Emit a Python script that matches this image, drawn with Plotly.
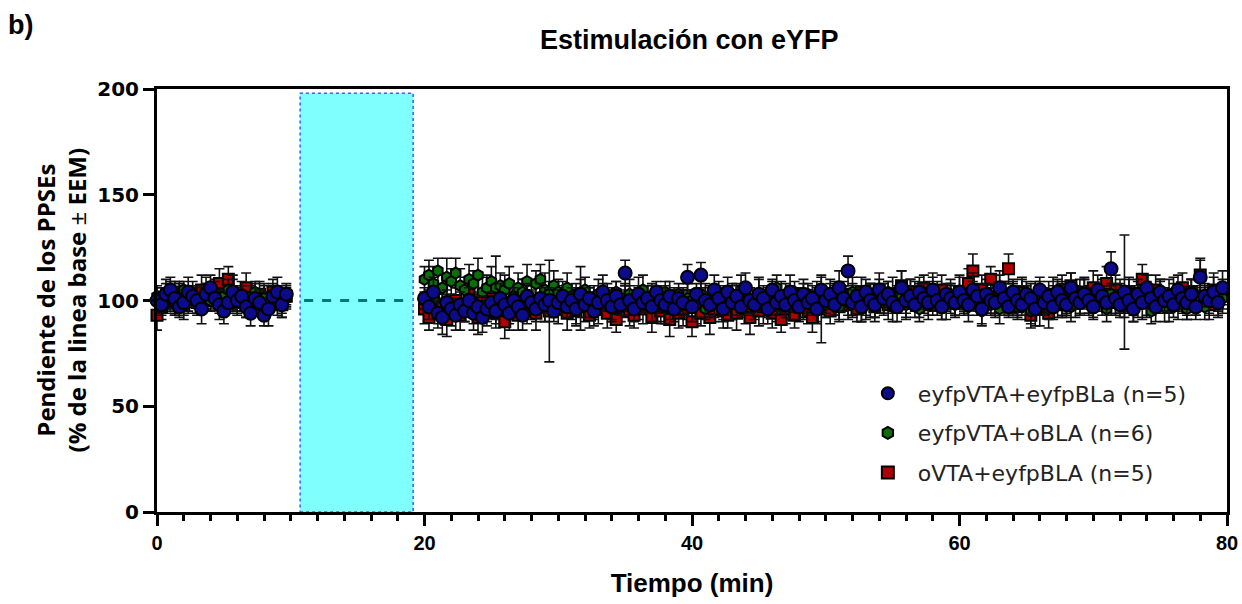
import plotly.graph_objects as go

# Sampling: one point every 20 s, baseline 0-10 min and post-stimulation 20-80 min
t_base = [i / 3 for i in range(30)]
t_post = [20 + i / 3 for i in range(180)]
tiempo = t_base + t_post

# eyfpVTA+eyfpBLa (n=5)
eyfp_eyfp = [
    100, 98, 103, 105, 101, 97, 99, 104, 102, 100, 96, 103, 106, 101, 98, 95, 99, 104, 100, 102, 97, 94, 101, 99, 93, 96, 102, 104, 98, 103,
    101, 97, 104, 94, 92, 99, 96, 93, 98, 95, 100, 94, 97, 92, 96, 99, 95, 101, 98, 94, 100, 97, 93, 102, 99, 96, 101, 98, 100, 95,
    99, 102, 97, 100, 96, 103, 98, 101, 95, 99, 104, 100, 97, 102, 98, 113, 100, 96, 103, 99, 101, 97, 104, 100, 98, 102, 96, 101, 99, 111,
    97, 103, 112, 100, 98, 105, 101, 96, 104, 99, 102, 97, 106, 100, 98, 103, 101, 96, 105, 99, 102, 98, 104, 100, 97, 103, 99, 101, 96, 105,
    100, 103, 98, 106, 101, 114, 99, 102, 97, 104, 100, 98, 105, 101, 103, 99, 97, 106, 100, 102, 98, 104, 101, 99, 105, 100, 97, 103, 101, 99,
    104, 100, 98, 105, 102, 96, 103, 100, 99, 106, 101, 97, 104, 100, 98, 103, 101, 96, 105, 99, 102, 97, 104, 100, 98, 106, 101, 99, 103, 100,
    97, 105, 102, 99, 115, 101, 98, 104, 100, 96, 103, 99, 106, 101, 97, 104, 100, 102, 98, 105, 101, 99, 103, 97, 111, 102, 100, 104, 99, 106,
]
eyfp_eyfp_eem = [
    6, 5, 7, 6, 8, 5, 6, 7, 5, 6, 7, 8, 6, 5, 7, 6, 5, 8, 6, 7, 5, 6, 7, 6, 5, 8, 6, 7, 6, 5,
    5, 6, 7, 5, 8, 6, 5, 7, 6, 5, 6, 8, 5, 7, 6, 5, 6, 7, 5, 8, 6, 5, 7, 6, 5, 6, 7, 8, 6, 5,
    6, 7, 5, 6, 8, 7, 6, 5, 7, 6, 8, 5, 6, 7, 5, 6, 7, 6, 8, 5, 6, 7, 5, 6, 9, 7, 6, 5, 7, 6,
    7, 5, 6, 8, 6, 7, 5, 6, 7, 8, 6, 5, 7, 6, 5, 8, 6, 7, 5, 6, 7, 6, 8, 5, 6, 7, 5, 6, 7, 6,
    6, 7, 5, 8, 6, 7, 6, 5, 7, 6, 8, 6, 5, 7, 6, 5, 7, 8, 6, 5, 6, 7, 5, 6, 8, 7, 6, 5, 7, 6,
    7, 6, 5, 8, 6, 7, 5, 6, 7, 6, 8, 5, 6, 7, 5, 6, 7, 8, 6, 5, 7, 6, 5, 8, 6, 7, 5, 6, 7, 6,
    6, 7, 5, 6, 8, 7, 6, 27, 5, 6, 7, 8, 6, 5, 7, 6, 5, 8, 6, 7, 5, 6, 7, 6, 8, 5, 6, 7, 6, 8,
]

# eyfpVTA+oBLA (n=6)
eyfp_obla = [
    102, 100, 104, 101, 99, 103, 105, 100, 102, 98, 101, 104, 100, 103, 99, 102, 105, 101, 100, 103, 98, 102, 104, 100, 101, 99, 103, 102, 100, 101,
    110, 112, 108, 114, 106, 111, 109, 113, 107, 105, 110, 108, 112, 104, 106, 109, 106, 107, 105, 108, 102, 106, 104, 109, 101, 108, 110, 105, 103, 107,
    104, 102, 106, 100, 103, 99, 105, 101, 98, 103, 100, 102, 97, 104, 99, 101, 103, 98, 100, 105, 99, 102, 97, 101, 104, 98, 100, 103, 99, 101,
    100, 98, 103, 96, 101, 99, 104, 97, 100, 102, 98, 105, 99, 101, 97, 103, 100, 98, 102, 106, 99, 101, 97, 104, 100, 98, 103, 99, 102, 100,
    98, 103, 100, 97, 102, 99, 104, 101, 96, 100, 103, 98, 101, 99, 104, 97, 100, 102, 98, 103, 100, 96, 101, 104, 99, 102, 97, 100, 103, 98,
    101, 99, 97, 103, 100, 95, 102, 98, 100, 96, 103, 99, 101, 97, 104, 100, 95, 98, 102, 99, 96, 101, 103, 98, 100, 97, 102, 99, 104, 100,
    98, 102, 100, 96, 103, 99, 101, 97, 104, 100, 98, 102, 99, 95, 101, 103, 97, 100, 102, 98, 100, 96, 103, 99, 101, 97, 100, 102, 98, 101,
]
eyfp_obla_eem = [
    5, 6, 4, 5, 6, 5, 4, 6, 5, 5, 6, 4, 5, 6, 5, 4, 5, 6, 5, 4, 6, 5, 5, 4, 6, 5, 4, 5, 6, 5,
    6, 7, 8, 6, 7, 9, 6, 7, 8, 6, 7, 6, 8, 7, 6, 7, 15, 6, 7, 8, 6, 7, 6, 8, 7, 6, 7, 8, 6, 7,
    6, 5, 7, 6, 5, 7, 6, 5, 6, 7, 5, 6, 7, 5, 6, 6, 7, 5, 6, 7, 5, 6, 7, 6, 5, 7, 6, 5, 6, 7,
    5, 6, 7, 5, 6, 7, 5, 6, 7, 6, 5, 7, 6, 5, 6, 7, 5, 6, 7, 6, 5, 7, 6, 5, 6, 7, 5, 6, 7, 5,
    6, 5, 7, 6, 5, 6, 7, 5, 6, 7, 5, 6, 7, 6, 5, 7, 6, 5, 6, 7, 5, 6, 7, 5, 6, 7, 6, 5, 7, 6,
    5, 6, 7, 6, 5, 7, 6, 5, 6, 7, 5, 6, 7, 5, 6, 7, 6, 5, 7, 6, 5, 6, 7, 5, 6, 7, 5, 6, 7, 6,
    6, 5, 7, 6, 5, 6, 7, 5, 6, 7, 6, 5, 7, 6, 5, 6, 7, 5, 6, 7, 6, 5, 7, 6, 5, 6, 7, 5, 6, 7,
]

# oVTA+eyfpBLA (n=5)
ovta_eyfp = [
    93, 97, 99, 102, 100, 104, 98, 101, 103, 99, 105, 102, 100, 104, 108, 101, 110, 103, 99, 102, 106, 100, 98, 103, 101, 99, 104, 100, 98, 102,
    96, 92, 99, 94, 97, 91, 95, 100, 93, 98, 103, 96, 92, 99, 95, 101, 94, 97, 90, 96, 99, 93, 102, 95, 98, 94, 100, 97, 95, 99,
    96, 100, 94, 98, 95, 101, 97, 93, 99, 96, 102, 94, 98, 91, 97, 100, 95, 93, 99, 96, 101, 92, 98, 95, 97, 91, 99, 94, 96, 98,
    90, 97, 94, 99, 92, 96, 100, 95, 93, 98, 94, 101, 96, 92, 99, 95, 97, 100, 94, 98, 91, 96, 99, 93, 97, 100, 95, 92, 98, 96,
    99, 95, 101, 97, 103, 98, 100, 96, 104, 99, 102, 97, 105, 100, 98, 103, 101, 107, 99, 104, 102, 100, 106, 98, 103, 101, 105, 99, 102, 100,
    104, 101, 108, 114, 99, 105, 102, 110, 100, 106, 103, 115, 101, 97, 104, 99, 93, 102, 96, 100, 94, 103, 98, 105, 101, 107, 99, 102, 104, 100,
    106, 101, 103, 108, 99, 105, 102, 100, 104, 98, 103, 110, 101, 99, 105, 102, 100, 97, 103, 101, 106, 99, 104, 100, 112, 102, 98, 105, 101, 103,
]
ovta_eyfp_eem = [
    7, 6, 5, 7, 6, 5, 7, 6, 6, 5, 7, 6, 5, 6, 7, 5, 6, 7, 6, 5, 7, 6, 5, 6, 7, 5, 6, 7, 6, 5,
    7, 6, 8, 7, 6, 8, 7, 6, 7, 8, 6, 7, 8, 6, 7, 8, 7, 6, 8, 7, 6, 7, 8, 6, 7, 8, 6, 7, 24, 7,
    7, 6, 8, 7, 6, 15, 7, 6, 8, 7, 6, 7, 8, 6, 7, 8, 7, 6, 8, 7, 6, 7, 8, 6, 7, 8, 6, 7, 8, 7,
    7, 8, 6, 7, 8, 6, 7, 8, 6, 7, 8, 6, 7, 8, 6, 7, 8, 6, 7, 8, 6, 7, 8, 6, 7, 8, 6, 7, 8, 16,
    7, 6, 8, 7, 6, 7, 8, 6, 7, 8, 6, 7, 8, 6, 7, 8, 6, 7, 8, 6, 7, 8, 6, 7, 8, 6, 7, 8, 6, 7,
    8, 6, 7, 8, 6, 7, 8, 6, 7, 8, 6, 7, 8, 6, 7, 8, 6, 7, 8, 6, 7, 8, 6, 7, 8, 6, 7, 8, 6, 7,
    8, 6, 7, 8, 6, 7, 8, 6, 7, 8, 6, 7, 8, 6, 7, 8, 6, 7, 8, 6, 7, 8, 6, 7, 8, 6, 7, 8, 6, 7,
]

# Stimulation window (min) and its baseline reference level
estim_inicio, estim_fin, estim_techo = 10.7, 19.15, 198
linea_base = 100

series = [
    # (name, values, errors, symbol, fill, size, legend rank) - drawn back to front
    ("oVTA+eyfpBLA (n=5)", ovta_eyfp, ovta_eyfp_eem, "square", "#b00000", 11, 3),
    ("eyfpVTA+oBLA (n=6)", eyfp_obla, eyfp_obla_eem, "hexagon", "#0a6e0a", 11, 2),
    ("eyfpVTA+eyfpBLa (n=5)", eyfp_eyfp, eyfp_eyfp_eem, "circle", "#0b0b8c", 13, 1),
]

fig = go.Figure()

for name, vals, errs, sym, col, size, rank in series:
    fig.add_trace(go.Scatter(
        x=tiempo, y=vals, name=name, mode="markers",
        legendrank=rank, legendgroup=name, cliponaxis=False,
        marker=dict(symbol=sym, size=size, color=col,
                    line=dict(color="black", width=2)),
        error_y=dict(type="data", array=errs, visible=True,
                     color="#111111", thickness=1.6, width=5),
    ))

# Stimulation window
fig.add_shape(type="rect", xref="x", yref="y",
              x0=estim_inicio, x1=estim_fin, y0=0, y1=estim_techo,
              fillcolor="#80ffff", layer="below",
              line=dict(color="#3b5bff", width=1.5, dash="dot"))
fig.add_shape(type="line", xref="x", yref="y",
              x0=estim_inicio + 0.3, x1=estim_fin - 0.2, y0=linea_base, y1=linea_base,
              line=dict(color="#007878", width=3, dash="dash"))

# Panel letter and y-axis title
fig.add_annotation(text="<b>b)</b>", xref="paper", yref="paper",
                   x=0, y=1, xshift=-151, yshift=64, xanchor="left", yanchor="middle",
                   showarrow=False, font=dict(family="Liberation Sans", size=27, color="black"))
fig.add_annotation(text="<b>Pendiente de los PPSEs</b><br><b>(% de la linea base </b>±<b> EEM)</b>",
                   xref="paper", yref="paper", x=0, y=0.5, xshift=-97,
                   xanchor="center", yanchor="middle", textangle=-90, showarrow=False,
                   font=dict(family="Open Sans", size=24, color="black"))

fig.update_layout(
    width=1242, height=604,
    margin=dict(l=157, r=15, t=89, b=92, autoexpand=False),
    paper_bgcolor="white", plot_bgcolor="white",
    title=dict(text="<b>Estimulación con eYFP</b>", x=0.555, xanchor="center",
               y=0.934, yanchor="middle",
               font=dict(family="Liberation Sans", size=27, color="black")),
    showlegend=True,
    legend=dict(x=0.655, y=0.33, xanchor="left", yanchor="top",
                bgcolor="rgba(0,0,0,0)", itemsizing="constant", itemwidth=50,
                traceorder="grouped", tracegroupgap=8,
                font=dict(family="DejaVu Sans", size=22, color="#222222")),
    xaxis=dict(range=[0, 80], tickvals=[0, 20, 40, 60, 80], automargin=False,
               showline=True, linewidth=3, linecolor="black", mirror=True,
               ticks="outside", ticklen=11, tickwidth=3, tickcolor="black",
               minor=dict(dtick=2, ticks="outside", ticklen=6, tickwidth=2.5, tickcolor="black"),
               showgrid=False, zeroline=False,
               tickfont=dict(family="Liberation Sans", size=20, color="black", weight="bold"),
               title=dict(text="<b>Tiempo (min)</b>", standoff=21,
                          font=dict(family="Liberation Sans", size=26, color="black"))),
    yaxis=dict(range=[0, 200], tickvals=[0, 50, 100, 150, 200], automargin=False,
               showline=True, linewidth=3, linecolor="black", mirror=True,
               ticks="outside", ticklen=11, tickwidth=3, tickcolor="black",
               showgrid=False, zeroline=False,
               tickfont=dict(family="DejaVu Sans", size=20, color="black", weight="bold")),
)

fig.write_html("out.html")
